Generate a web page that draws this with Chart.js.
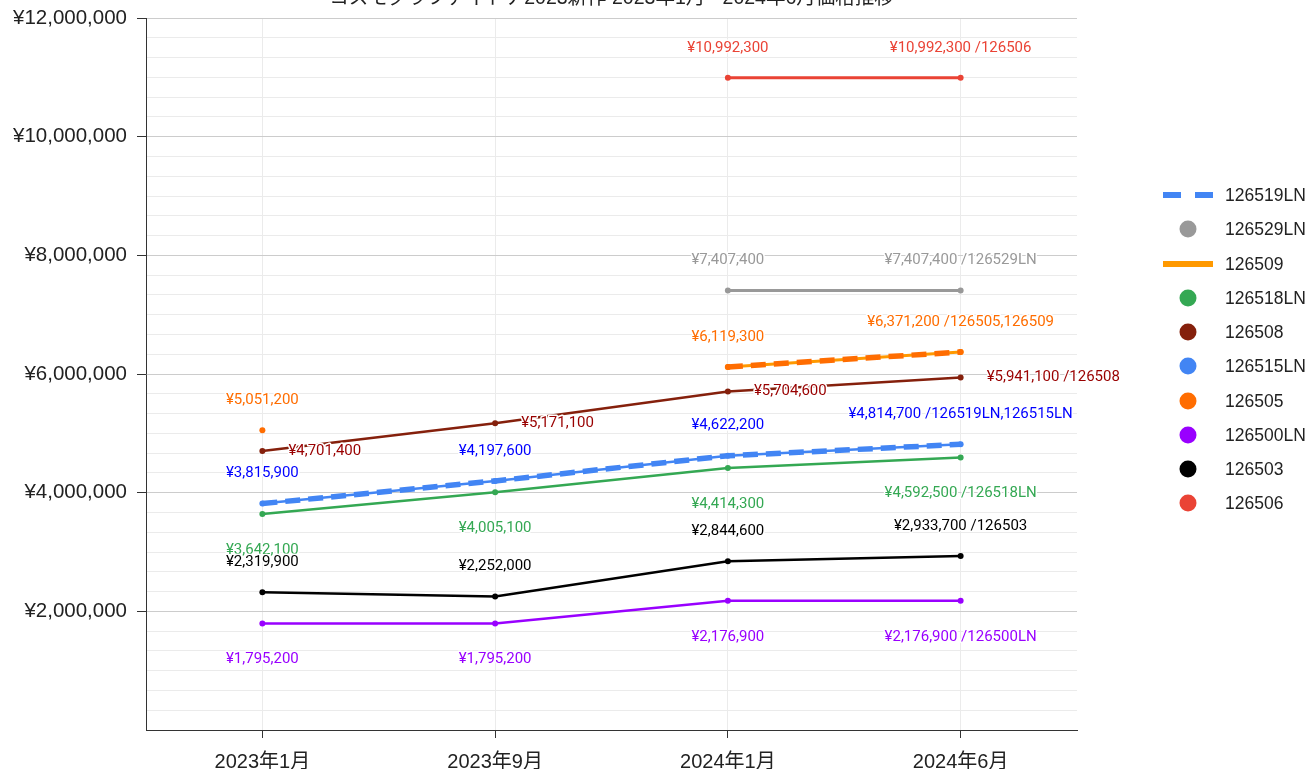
<!DOCTYPE html>
<html><head><meta charset="utf-8">
<script src="https://cdn.jsdelivr.net/npm/chart.js@4.4.1/dist/chart.umd.min.js"></script>
<style>
html,body{margin:0;padding:0;background:#fff;width:1310px;height:769px;overflow:hidden;}
#wrap{position:absolute;left:0;top:0;width:1310px;height:769px;}
#legend{position:absolute;left:0;top:0;font-family:"Liberation Sans",Arial,sans-serif;font-size:17.5px;color:#222;}
.item{position:absolute;height:20px;line-height:20px;}
.item svg{position:absolute;left:0;top:0;}
.item span{position:absolute;left:62px;top:0;white-space:nowrap;}
</style></head><body>
<div id="wrap"><canvas id="c" width="1310" height="769"></canvas></div>
<div id="legend"></div>
<script>
// ---------- data ----------
const chartTitle = 'コスモグラフデイトナ2023新作 2023年1月 - 2024年6月価格推移';
const categories = ['2023年1月', '2023年9月', '2024年1月', '2024年6月'];
const seriesNames = ['126519LN', '126529LN', '126509', '126518LN', '126508', '126515LN', '126505', '126500LN', '126503', '126506'];
const v126519LN = [3815900, 4197600, 4622200, 4814700];
const v126529LN = [null, null, 7407400, 7407400];
const v126509   = [null, null, 6119300, 6371200];
const v126518LN = [3642100, 4005100, 4414300, 4592500];
const v126508   = [4701400, 5171100, 5704600, 5941100];
const v126515LN = [3815900, 4197600, 4622200, 4814700];
const v126505   = [5051200, null, 6119300, 6371200];
const v126500LN = [1795200, 1795200, 2176900, 2176900];
const v126503   = [2319900, 2252000, 2844600, 2933700];
const v126506   = [null, null, 10992300, 10992300];
const seriesValues = [v126519LN, v126529LN, v126509, v126518LN, v126508, v126515LN, v126505, v126500LN, v126503, v126506];
const yMin = 0, yMax = 12000000, yMajorStep = 2000000, yMinorPerMajor = 6;
// last-point label suffixes (series sharing that value)
const endTags = {'126506':'126506','126529LN':'126529LN','126505':'126505,126509','126508':'126508','126519LN':'126519LN,126515LN','126518LN':'126518LN','126503':'126503','126500LN':'126500LN'};

// ---------- styles ----------
const styles = {
  '126519LN': {color:'#4285F4', width:5.5, dash:[15,8], radius:0, order:0, legend:'dash', label:{pos:'above', color:'#0000FF'}},
  '126529LN': {color:'#999999', width:3, radius:3, order:1, legend:'dot', label:{pos:'above', color:'#999999'}},
  '126509':   {color:'#FF9900', width:3, radius:3, order:1, legend:'line'},
  '126518LN': {color:'#34A853', width:2.5, radius:3, order:1, legend:'dot', label:{pos:'below', color:'#34A853'}},
  '126508':   {color:'#85200C', width:2.5, radius:3, order:1, legend:'dot', label:{pos:'right', color:'#990000'}},
  '126515LN': {color:'#4285F4', width:2.5, radius:3, order:1, legend:'dot'},
  '126505':   {color:'#FF6D01', width:5.5, dash:[15,8], radius:3, order:0, legend:'dot', label:{pos:'above', color:'#FF6D01'}},
  '126500LN': {color:'#9900FF', width:2.5, radius:3, order:1, legend:'dot', label:{pos:'below', color:'#9900FF'}},
  '126503':   {color:'#000000', width:2.5, radius:3, order:1, legend:'dot', label:{pos:'above', color:'#000000'}},
  '126506':   {color:'#EA4335', width:3, radius:3, order:1, legend:'dot', label:{pos:'above', color:'#EA4335'}}
};
const axisFont = '"Liberation Sans", Arial, "Noto Sans CJK JP", sans-serif';
const labelFont = 'Roboto, "Liberation Sans", sans-serif';

const datasets = seriesNames.map((n, i) => {
  const s = styles[n];
  return {
    label: n, data: seriesValues[i], borderColor: s.color, backgroundColor: s.color,
    borderWidth: s.width, borderDash: s.dash || [], pointRadius: s.radius, pointBorderWidth: 0,
    pointBackgroundColor: s.color, pointHoverRadius: s.radius, order: s.order, tension: 0,
    borderCapStyle: s.dash ? 'butt' : 'round', spanGaps: false
  };
});

const fmt = v => '¥' + Math.round(v).toLocaleString('en-US');

const titlePlugin = {
  id: 'cutTitle',
  afterDraw(chart) {
    const ctx = chart.ctx, a = chart.chartArea;
    ctx.save();
    ctx.font = '19.5px ' + axisFont;
    ctx.fillStyle = '#222';
    ctx.textAlign = 'center';
    ctx.textBaseline = 'alphabetic';
    ctx.fillText(chartTitle, (a.left + a.right) / 2, 4);
    ctx.restore();
  }
};

const labelPlugin = {
  id: 'valueLabels',
  afterDatasetsDraw(chart) {
    const ctx = chart.ctx;
    ctx.save();
    ctx.font = '15px ' + labelFont;
    ctx.lineJoin = 'round';
    chart.data.datasets.forEach((ds, di) => {
      const st = styles[ds.label];
      if (!st.label) return;
      const meta = chart.getDatasetMeta(di);
      ds.data.forEach((v, i) => {
        if (v == null) return;
        const p = meta.data[i];
        let txt = fmt(v);
        if (i === ds.data.length - 1 && endTags[ds.label]) txt += ' /' + endTags[ds.label];
        let x = p.x, y = p.y;
        ctx.textBaseline = 'middle';
        if (st.label.pos === 'above') { y -= 30; ctx.textAlign = 'center'; }
        else if (st.label.pos === 'below') { y += 36; ctx.textAlign = 'center'; }
        else { x += 26; ctx.textAlign = 'left'; }
        ctx.strokeStyle = '#fff'; ctx.lineWidth = 3;
        ctx.strokeText(txt, x, y);
        ctx.fillStyle = st.label.color;
        ctx.fillText(txt, x, y);
      });
    });
    ctx.restore();
  }
};

const isMajor = v => Math.abs(v / yMajorStep - Math.round(v / yMajorStep)) < 1e-6;

new Chart(document.getElementById('c'), {
  type: 'line',
  data: {labels: categories, datasets},
  plugins: [titlePlugin, labelPlugin],
  options: {
    responsive: false, animation: false, devicePixelRatio: 1,
    layout: {padding: {top: 18, right: 233, left: 0, bottom: 0}},
    plugins: {legend: {display: false}, tooltip: {enabled: false}, title: {display: false}},
    scales: {
      x: {
        offset: true,
        grid: {offset: false, color: '#ebebeb', tickColor: '#333', tickLength: 8},
        border: {color: '#333', width: 1},
        ticks: {font: {family: axisFont, size: 20}, color: '#222', padding: 12, maxRotation: 0},
        afterFit(s) { s.height = 39; s.paddingLeft = 0; s.paddingRight = 0; }
      },
      y: {
        min: yMin, max: yMax,
        afterBuildTicks(s) {
          const t = [];
          const step = yMajorStep / yMinorPerMajor;
          for (let k = 0; k <= Math.round((yMax - yMin) / step); k++) t.push({value: yMin + k * step});
          s.ticks = t;
        },
        grid: {
          color: c => isMajor(c.tick.value) ? '#cccccc' : '#ebebeb',
          tickColor: c => (isMajor(c.tick.value) && c.tick.value > 0) ? '#333' : 'rgba(0,0,0,0)',
          tickLength: 9
        },
        border: {color: '#333', width: 1},
        ticks: {
          autoSkip: false, padding: 10, color: '#222', font: {family: axisFont, size: 20.5},
          callback: v => (isMajor(v) && v > 0) ? fmt(v) : ''
        },
        afterFit(s) { s.width = 146; s.paddingTop = 0; s.paddingBottom = 0; }
      }
    }
  }
});

// ---------- legend ----------
const leg = document.getElementById('legend');
seriesNames.forEach((n, i) => {
  const s = styles[n];
  const cy = 195 + i * 34.25;
  const d = document.createElement('div');
  d.className = 'item';
  d.style.left = '1163px';
  d.style.top = (cy - 10) + 'px';
  let svg;
  if (s.legend === 'dash') svg = `<svg width="52" height="20"><line x1="0" y1="10" x2="50" y2="10" stroke="${s.color}" stroke-width="6" stroke-dasharray="18 14"/></svg>`;
  else if (s.legend === 'line') svg = `<svg width="52" height="20"><line x1="0" y1="10" x2="50" y2="10" stroke="${s.color}" stroke-width="6"/></svg>`;
  else svg = `<svg width="52" height="20"><circle cx="25" cy="10" r="8.5" fill="${s.color}"/></svg>`;
  d.innerHTML = svg + `<span>${n}</span>`;
  leg.appendChild(d);
});
</script>
</body></html>
